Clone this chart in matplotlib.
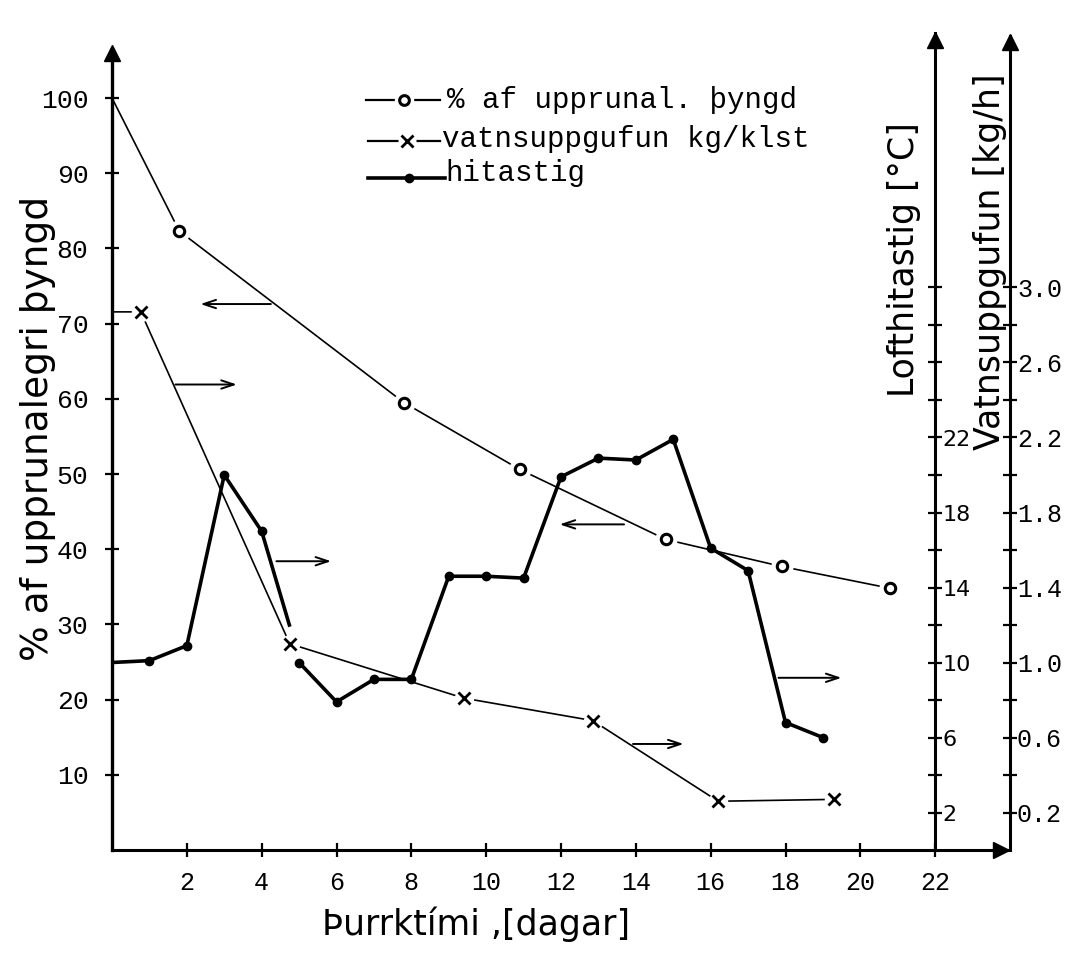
import matplotlib
matplotlib.use('Agg')
import matplotlib.pyplot as plt
import numpy as np

# remaining weight, % of original
weight_days = [0, 1.8, 7.8, 10.9, 14.8, 17.9, 20.8]
weight_pct = [100, 82.3, 59.5, 50.6, 41.3, 37.7, 34.8]

# water evaporation, kg/h
evap_days = [0, 0.77, 4.75, 9.4, 12.85, 16.2, 19.3]
evap_kgh = [2.87, 2.87, 1.10, 0.81, 0.69, 0.26, 0.27]

# air temperature, deg C (the drawn line breaks just before day 5)
temp_days = [0, 1, 2, 3, 4, 4.74, np.nan, 5, 6, 7, 8, 9, 10, 11, 12, 13, 14, 15, 16, 17, 18, 19]
temp_c = [10.0, 10.1, 10.9, 20.0, 17.0, 12.0, np.nan, 10.0, 7.9, 9.1, 9.1, 14.6, 14.6, 14.5,
          19.9, 20.9, 20.8, 21.9, 16.1, 14.9, 6.8, 6.0]

x_ticks = list(range(2, 23, 2))
pct_ticks = list(range(10, 101, 10))
temp_ticks = [2, 6, 10, 14, 18, 22]
temp_minor = list(range(2, 31, 2))
evap_ticks = [0.2, 0.6, 1.0, 1.4, 1.8, 2.2, 2.6, 3.0]
evap_minor = [round(0.2 * i, 1) for i in range(1, 16)]

# little arrows telling which axis a curve belongs to: (tail_x, head_x, y in %)
pointers = [(4.32, 2.29, 72.6), (1.62, 3.41, 61.9), (4.32, 5.93, 38.4),
            (13.76, 11.89, 43.3), (17.74, 19.57, 22.9), (13.85, 15.35, 14.1)]

MONO = 'Liberation Mono'
SANS = 'DejaVu Sans'

W, H = 1080, 955
fig = plt.figure(figsize=(W / 100, H / 100), dpi=100)
ax = fig.add_axes([112 / W, 1 - 850 / H, 898 / W, 817 / H])
ax.set_xlim(0, 24)
ax.set_ylim(0, 817 / 7.52)
ax_t = ax.twinx()
ax_t.set_ylim(0, 817 / 18.75)
ax_v = ax.twinx()
ax_v.set_ylim(0, 817 / 187.5)

for a in (ax, ax_t, ax_v):
    for s in a.spines.values():
        s.set_visible(False)
    a.patch.set_visible(False)

ax.spines['left'].set_visible(True)
ax.spines['left'].set_linewidth(2.4)
ax.spines['left'].set_bounds(0, 106.4)
ax.spines['bottom'].set_visible(True)
ax.spines['bottom'].set_linewidth(2.2)
ax_t.spines['right'].set_visible(True)
ax_t.spines['right'].set_position(('axes', 22 / 24))
ax_t.spines['right'].set_linewidth(2.2)
ax_v.spines['right'].set_visible(True)
ax_v.spines['right'].set_linewidth(2.2)
ax_v.spines['right'].set_bounds(0, 4.34)

# arrow heads on the axes
ax.plot([0], [106.0], marker='^', ms=11, color='k', clip_on=False)
ax.plot([23.75], [0], marker='>', ms=12, color='k', clip_on=False)
ax_t.plot([22], [43.2], marker='^', ms=11, color='k', clip_on=False)
ax_v.plot([24], [4.31], marker='^', ms=11, color='k', clip_on=False)

tick_kw = dict(direction='inout', length=10, width=1.6, color='k')
ax.set_xticks(x_ticks)
ax.set_xticklabels([str(v) for v in x_ticks], fontfamily=MONO, fontsize=18)
ax.tick_params(axis='x', pad=10, **tick_kw)
ax.set_yticks(pct_ticks)
ax.set_yticklabels([str(v) for v in pct_ticks], fontfamily=MONO, fontsize=19)
ax.tick_params(axis='y', pad=12, **tick_kw)

ax_t.set_yticks(temp_ticks)
ax_t.set_yticks(temp_minor, minor=True)
ax_t.set_yticklabels([str(v) for v in temp_ticks], fontfamily=SANS, fontsize=16)
ax_t.tick_params(axis='y', which='both', pad=0, **tick_kw)

ax_v.set_yticks(evap_ticks)
ax_v.set_yticks(evap_minor, minor=True)
ax_v.set_yticklabels([f'{v:.1f}' for v in evap_ticks], fontfamily=MONO, fontsize=18)
ax_v.tick_params(axis='y', which='both', pad=0, **tick_kw)

# curves
ax.plot(weight_days, weight_pct, color='k', lw=1.2, zorder=2)
ax.plot(weight_days[1:], weight_pct[1:], ls='none', marker='o', ms=15, color='white', zorder=3)
ax.plot(weight_days[1:], weight_pct[1:], ls='none', marker='o', ms=7.5, mfc='white',
        mec='k', mew=2.2, zorder=4)

ax_t.plot(temp_days, temp_c, color='k', lw=2.6, zorder=2)
dots = [i for i, d in enumerate(temp_days) if d == d and d == int(d) and d > 0]
ax_t.plot([temp_days[i] for i in dots], [temp_c[i] for i in dots], ls='none', marker='o',
          ms=6, color='k', zorder=3)

ax_v.plot(evap_days, evap_kgh, color='k', lw=1.2, zorder=2)
ax_v.plot(evap_days[1:], evap_kgh[1:], ls='none', marker='o', ms=13, color='white', zorder=3)
ax_v.plot(evap_days[1:], evap_kgh[1:], ls='none', marker='x', ms=8, color='k', mew=2, zorder=4)

for tail, head, y in pointers:
    ax.annotate('', xy=(head, y), xytext=(tail, y),
                arrowprops=dict(arrowstyle='->,head_length=0.9,head_width=0.3', lw=1.4, color='k'))

# labels and key, placed in figure pixels
ov = fig.add_axes([0, 0, 1, 1])
ov.set_xlim(0, W)
ov.set_ylim(H, 0)
ov.axis('off')

ov.text(38, 428, '% af upprunalegri þyngd', rotation=90, ha='center', va='center',
        fontsize=27, fontfamily=SANS)
ov.text(476, 924, 'Þurrktími ,[dagar]', ha='center', va='center', fontsize=25, fontfamily=SANS)
ov.text(904, 260, 'Lofthitastig [°C]', rotation=90, ha='center', va='center',
        fontsize=25, fontfamily=SANS)
ov.text(990, 262, 'Vatnsuppgufun [kg/h]', rotation=90, ha='center', va='center',
        fontsize=25, fontfamily=SANS)

ov.plot([366, 440], [100, 100], color='k', lw=1.6)
ov.plot([404], [100], marker='o', ms=13, color='white', ls='none')
ov.plot([404], [100], marker='o', ms=7, mfc='white', mec='k', mew=2.2, ls='none')
ov.text(447, 100, '% af upprunal. þyngd', ha='left', va='center', fontsize=21, fontfamily=MONO)

ov.plot([368, 440], [141, 141], color='k', lw=1.6)
ov.plot([407], [141], marker='o', ms=12, color='white', ls='none')
ov.plot([407], [141], marker='x', ms=8, mew=2, color='k', ls='none')
ov.text(442, 139, 'vatnsuppgufun kg/klst', ha='left', va='center', fontsize=21, fontfamily=MONO)

ov.plot([368, 445], [178, 178], color='k', lw=2.6)
ov.plot([409], [178], marker='o', ms=6, color='k', ls='none')
ov.text(445, 173, 'hitastig', ha='left', va='center', fontsize=21, fontfamily=MONO)

fig.savefig('out.png', dpi=100)
